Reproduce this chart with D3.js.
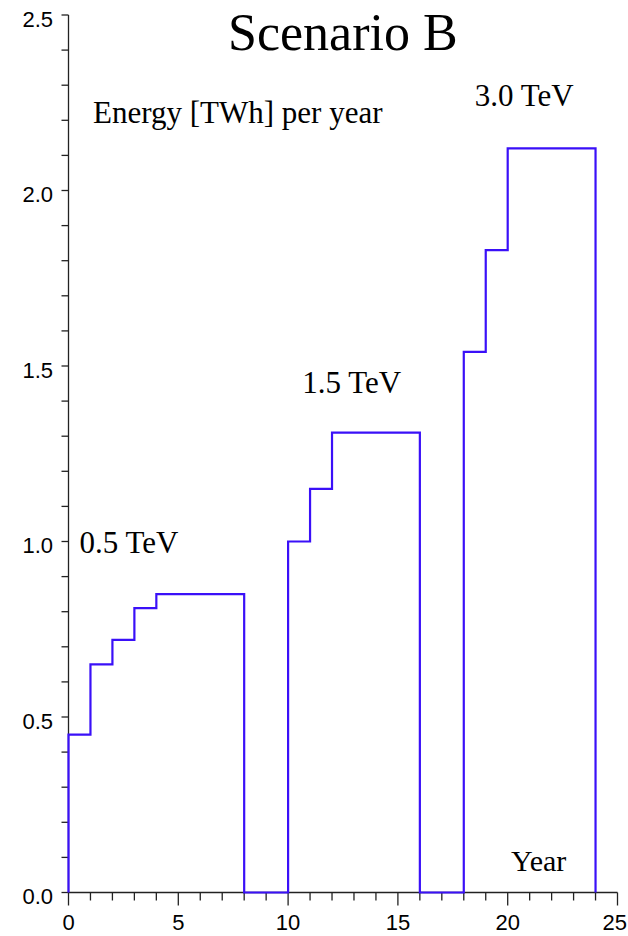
<!DOCTYPE html>
<html>
<head>
<meta charset="utf-8">
<script src="https://cdn.jsdelivr.net/npm/d3@7"></script>
<style>
  body { margin: 0; background: #fff; }
  svg { display: block; }
  .tick-label { font-family: "Liberation Sans", Arial, sans-serif; font-size: 22px; fill: #000; }
  .serif { font-family: "Liberation Serif", "Times New Roman", serif; fill: #000; }
</style>
</head>
<body>
<svg width="628" height="936"></svg>
<script>
// scenario B - energy per year, step chart

// year where each step starts, and the energy [TWh] for that step
var stepYears = [0, 1, 2, 3, 4, 8, 10, 11, 12, 16, 18, 19, 20];
var stepEnergy = [0.45, 0.65, 0.72, 0.81, 0.85, 0, 1.0, 1.15, 1.31, 0, 1.54, 1.83, 2.12];
var lastYear = 24;

var xTicks = d3.range(0, 26, 1);
var xLabels = [0, 5, 10, 15, 20, 25];
var yTicks = d3.range(0, 26, 1).map(function (d) { return d / 10; });
var yLabels = ["0.0", "0.5", "1.0", "1.5", "2.0", "2.5"];

// stage labels (energy, year position, value position)
var stageNames = ["0.5 TeV", "1.5 TeV", "3.0 TeV"];
var stageX = [0.5, 10.65, 18.5];
var stageY = [0.968, 1.424, 2.242];

var svg = d3.select("svg");

var x = d3.scaleLinear().domain([0, 25]).range([68.5, 617.5]);
var y = d3.scaleLinear().domain([0, 2.5]).range([892.5, 15]);

var axisG = svg.append("g").attr("stroke", "#222").attr("stroke-width", 1.3);

// x axis
axisG.append("line")
    .attr("x1", x(0)).attr("x2", x(25))
    .attr("y1", y(0)).attr("y2", y(0));
axisG.selectAll(".xt")
    .data(xTicks)
    .enter()
    .append("line")
    .attr("x1", function (d) { return x(d); })
    .attr("x2", function (d) { return x(d); })
    .attr("y1", y(0))
    .attr("y2", function (d) { return y(0) + (d % 5 == 0 ? 13 : 8); });

// last label would run off the right edge, so keep it inside
svg.selectAll(".xl")
    .data(xLabels)
    .enter()
    .append("text")
    .attr("class", "tick-label")
    .attr("x", function (d) { return d == 25 ? 627 : x(d); })
    .attr("y", 930)
    .attr("text-anchor", function (d) { return d == 25 ? "end" : "middle"; })
    .text(function (d) { return d; });

// y axis
axisG.append("line")
    .attr("x1", x(0)).attr("x2", x(0))
    .attr("y1", y(0)).attr("y2", y(2.5));
axisG.selectAll(".yt")
    .data(yTicks)
    .enter()
    .append("line")
    .attr("x1", x(0) - 7)
    .attr("x2", x(0))
    .attr("y1", function (d) { return y(d); })
    .attr("y2", function (d) { return y(d); });

svg.selectAll(".yl")
    .data(yLabels)
    .enter()
    .append("text")
    .attr("class", "tick-label")
    .attr("x", 53)
    .attr("y", function (d) { return y(+d) + 11.5; })
    .attr("text-anchor", "end")
    .text(function (d) { return d; });

// the step line
var points = [[0, 0]];
stepYears.forEach(function (yr, i) { points.push([yr, stepEnergy[i]]); });
points.push([lastYear, 0]);

var line = d3.line()
    .x(function (d) { return x(d[0]); })
    .y(function (d) { return y(d[1]); })
    .curve(d3.curveStepAfter);

svg.append("path")
    .datum(points)
    .attr("d", line)
    .attr("fill", "none")
    .attr("stroke", "#3a10f8")
    .attr("stroke-width", 2.2);

// texts
svg.append("text")
    .attr("class", "serif")
    .attr("x", 228).attr("y", 50)
    .style("font-size", "52px")
    .text("Scenario B");

svg.append("text")
    .attr("class", "serif")
    .attr("x", 93).attr("y", 123)
    .style("font-size", "31px")
    .text("Energy [TWh] per year");

svg.selectAll(".stage")
    .data(stageNames)
    .enter()
    .append("text")
    .attr("class", "serif")
    .attr("x", function (d, i) { return x(stageX[i]); })
    .attr("y", function (d, i) { return y(stageY[i]); })
    .style("font-size", "31px")
    .text(function (d) { return d; });

svg.append("text")
    .attr("class", "serif")
    .attr("x", 511).attr("y", 871)
    .style("font-size", "30px")
    .text("Year");
</script>
</body>
</html>
